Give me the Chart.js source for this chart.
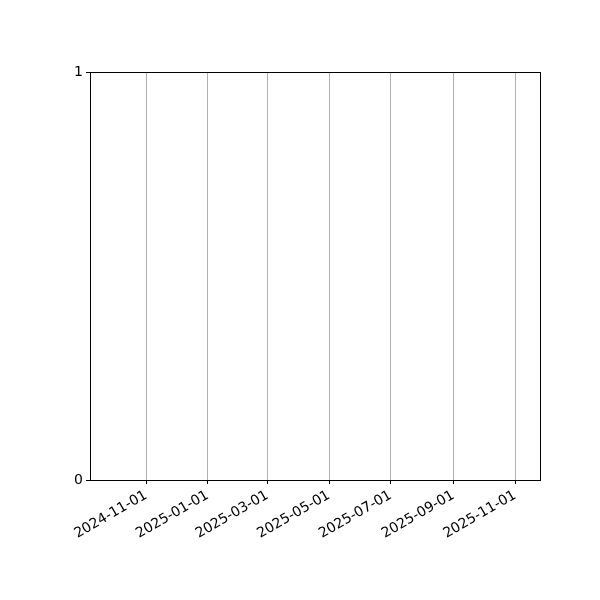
<!DOCTYPE html>
<html>
<head>
<meta charset="utf-8">
<script src="https://cdn.jsdelivr.net/npm/chart.js@4/dist/chart.umd.min.js"></script>
<style>
  html, body { margin: 0; padding: 0; background: #fff; }
</style>
</head>
<body>
<canvas id="myChart" width="600" height="600"></canvas>
<script>
// the reference plot is empty: no series values, only the axes
var seriesDates = [];
var seriesValues = [];
var xTickDates = ["2024-11-01", "2025-01-01", "2025-03-01", "2025-05-01", "2025-07-01", "2025-09-01", "2025-11-01"];
var yTickValues = [0, 1];
var xLimits = ["2024-09-06T14:00:00Z", "2025-11-25T17:00:00Z"];

var DAY = 86400000;
function toDay(s) {
  return Date.parse(s.length === 10 ? s + "T00:00:00Z" : s) / DAY;
}
function fmtDay(d) {
  return new Date(Math.round(d) * DAY).toISOString().slice(0, 10);
}

var points = seriesDates.map(function (d, i) {
  return { x: toDay(d), y: seriesValues[i] };
});

// matplotlib draws spines on all four sides
var framePlugin = {
  id: "frame",
  afterDraw: function (chart) {
    var a = chart.chartArea;
    var c = chart.ctx;
    c.save();
    c.strokeStyle = "#000";
    c.lineWidth = 1;
    c.strokeRect(Math.round(a.left) + 0.5, Math.round(a.top) + 0.5, Math.round(a.right - a.left), Math.round(a.bottom - a.top));
    c.restore();
  },
};

Chart.defaults.font.family = "'DejaVu Sans', sans-serif";
Chart.defaults.font.size = 14;
Chart.defaults.color = "#000";

var ctx = document.getElementById("myChart").getContext("2d");
var myChart = new Chart(ctx, {
  type: "line",
  data: {
    datasets: [
      {
        data: points,
        borderColor: "#1f77b4",
        borderWidth: 1.5,
        pointRadius: 0,
        fill: false,
      },
    ],
  },
  options: {
    responsive: false,
    animation: false,
    layout: { padding: { left: 0, top: 72, right: 60, bottom: 0 } },
    plugins: { legend: { display: false }, tooltip: { enabled: false } },
    scales: {
      x: {
        type: "linear",
        min: toDay(xLimits[0]),
        max: toDay(xLimits[1]),
        afterBuildTicks: function (scale) {
          scale.ticks = xTickDates.map(function (d) { return { value: toDay(d) }; });
        },
        afterFit: function (scale) { scale.height = 120; },
        ticks: {
          autoSkip: false,
          minRotation: 30,
          maxRotation: 30,
          padding: 3,
          callback: function (v) { return fmtDay(v); },
        },
        grid: { color: "#b0b0b0", tickColor: "#000", tickLength: 4, lineWidth: 1 },
        border: { color: "#000", width: 1 },
      },
      y: {
        min: 0,
        max: 1,
        afterBuildTicks: function (scale) {
          scale.ticks = yTickValues.map(function (v) { return { value: v }; });
        },
        afterFit: function (scale) { scale.width = 90; },
        ticks: { padding: 3 },
        grid: { drawOnChartArea: false, tickColor: "#000", tickLength: 4 },
        border: { color: "#000", width: 1 },
      },
    },
  },
  plugins: [framePlugin],
});
</script>
</body>
</html>
